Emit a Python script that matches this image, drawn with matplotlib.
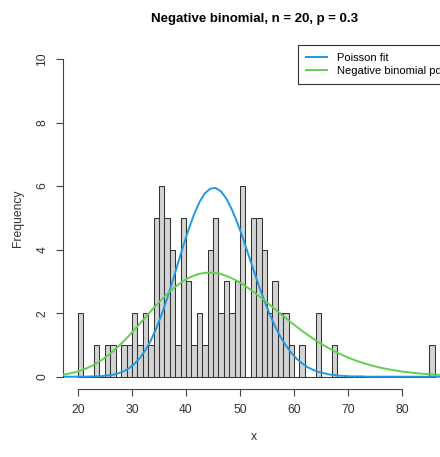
import matplotlib
matplotlib.use("Agg")
import matplotlib.pyplot as plt

plt.rcParams["font.family"] = ["Liberation Sans", "DejaVu Sans"]

# histogram: one bin per integer, left edges and counts
bin_left = list(range(20, 86))
counts = [2, 0, 0, 1, 0, 1, 1, 0, 1, 1,
          2, 1, 2, 1, 5, 6, 5, 4, 1, 5,
          3, 1, 2, 1, 4, 5, 2, 3, 2, 3,
          6, 0, 5, 5, 4, 2, 3, 2, 2, 1,
          0, 1, 0, 0, 2, 0, 0, 1, 0, 0,
          0, 0, 0, 0, 0, 0, 0, 0, 0, 0,
          0, 0, 0, 0, 0, 1]

# fitted curves (expected frequency, drawn at bin centres)
curve_x = [v + 0.5 for v in range(16, 91)]
poisson_fit = [0.00, 0.00, 0.00, 0.00, 0.00, 0.00, 0.01, 0.01, 0.02, 0.04,
               0.06, 0.11, 0.17, 0.27, 0.41, 0.59, 0.84, 1.14, 1.52, 1.96,
               2.45, 2.99, 3.56, 4.12, 4.64, 5.11, 5.50, 5.77, 5.92, 5.94,
               5.83, 5.60, 5.26, 4.85, 4.38, 3.87, 3.36, 2.86, 2.39, 1.97,
               1.58, 1.25, 0.98, 0.75, 0.56, 0.42, 0.30, 0.22, 0.15, 0.11,
               0.07, 0.05, 0.03, 0.02, 0.01, 0.01, 0.01, 0.00, 0.00, 0.00,
               0.00, 0.00, 0.00, 0.00, 0.00, 0.00, 0.00, 0.00, 0.00, 0.00,
               0.00, 0.00, 0.00, 0.00, 0.00]
negbin_pdf = [0.047, 0.070, 0.101, 0.141, 0.192, 0.256, 0.334, 0.427, 0.536, 0.660,
              0.800, 0.954, 1.121, 1.299, 1.485, 1.677, 1.871, 2.064, 2.252, 2.432,
              2.601, 2.755, 2.893, 3.012, 3.110, 3.185, 3.239, 3.269, 3.276, 3.261,
              3.226, 3.171, 3.098, 3.010, 2.908, 2.794, 2.670, 2.539, 2.403, 2.263,
              2.121, 1.980, 1.840, 1.703, 1.569, 1.441, 1.318, 1.201, 1.090, 0.986,
              0.889, 0.799, 0.715, 0.639, 0.568, 0.504, 0.446, 0.394, 0.346, 0.304,
              0.266, 0.232, 0.202, 0.175, 0.152, 0.131, 0.113, 0.097, 0.084, 0.072,
              0.061, 0.052, 0.044, 0.038, 0.032]

x_ticks = [20, 30, 40, 50, 60, 70, 80]
y_ticks = [0, 2, 4, 6, 8, 10]

W, H = 440, 457
fig = plt.figure(figsize=(W / 100, H / 100), dpi=100)

xlim = (17.25, 88.0)
px_per_unit = 5.405
ax_left = 63
ax_width = (xlim[1] - xlim[0]) * px_per_unit
ax_top, ax_bottom = 46.3, 389.4
ax = fig.add_axes([ax_left / W, 1 - ax_bottom / H, ax_width / W, (ax_bottom - ax_top) / H])

ax.bar(bin_left, counts, width=1, align="edge", color="#d3d3d3",
       edgecolor="#333333", linewidth=0.75, zorder=1)
ax.plot(curve_x, poisson_fit, color="#2297E6", lw=1.4, label="Poisson fit", zorder=2)
ax.plot(curve_x, negbin_pdf, color="#61D04F", lw=1.4, label="Negative binomial pdf", zorder=3)

ax.set_xlim(*xlim)
ax.set_ylim(-0.4, 10.4)
for s in ["top", "right"]:
    ax.spines[s].set_visible(False)
ax.spines["bottom"].set_bounds(20, 80)
ax.spines["left"].set_bounds(0, 10)
for s in ["bottom", "left"]:
    ax.spines[s].set_color("#444444")
    ax.spines[s].set_linewidth(0.8)

ax.set_xticks(x_ticks)
ax.set_yticks(y_ticks)
ax.tick_params(axis="both", direction="out", length=5, width=0.8, color="#444444",
               labelsize=8.7, labelcolor="#333333")
ax.tick_params(axis="x", pad=5.5)
ax.tick_params(axis="y", pad=5.5)
for lab in ax.get_yticklabels():
    lab.set_rotation(90)
    lab.set_va("center")

fig.text((ax_left + ax_width / 2) / W, 1 - 437 / H, "x", ha="center", va="center",
         fontsize=8.7, color="#333333")
fig.text(18 / W, 1 - 218 / H, "Frequency", ha="center", va="center", rotation=90,
         fontsize=8.7, color="#333333")
fig.text((ax_left + ax_width / 2) / W, 1 - 19 / H, "Negative binomial, n = 20, p = 0.3",
         ha="center", va="center", fontsize=9.5, fontweight="bold")

leg = ax.legend(loc="upper left", bbox_to_anchor=(298 / W, 1 - 45 / H),
                bbox_transform=fig.transFigure, borderaxespad=0, fancybox=False,
                edgecolor="#333333", framealpha=1, borderpad=0.75, handlelength=1.9,
                handletextpad=0.9, labelspacing=0.25, fontsize=8)
leg.get_frame().set_linewidth(0.8)

fig.savefig("out.png", dpi=100)
